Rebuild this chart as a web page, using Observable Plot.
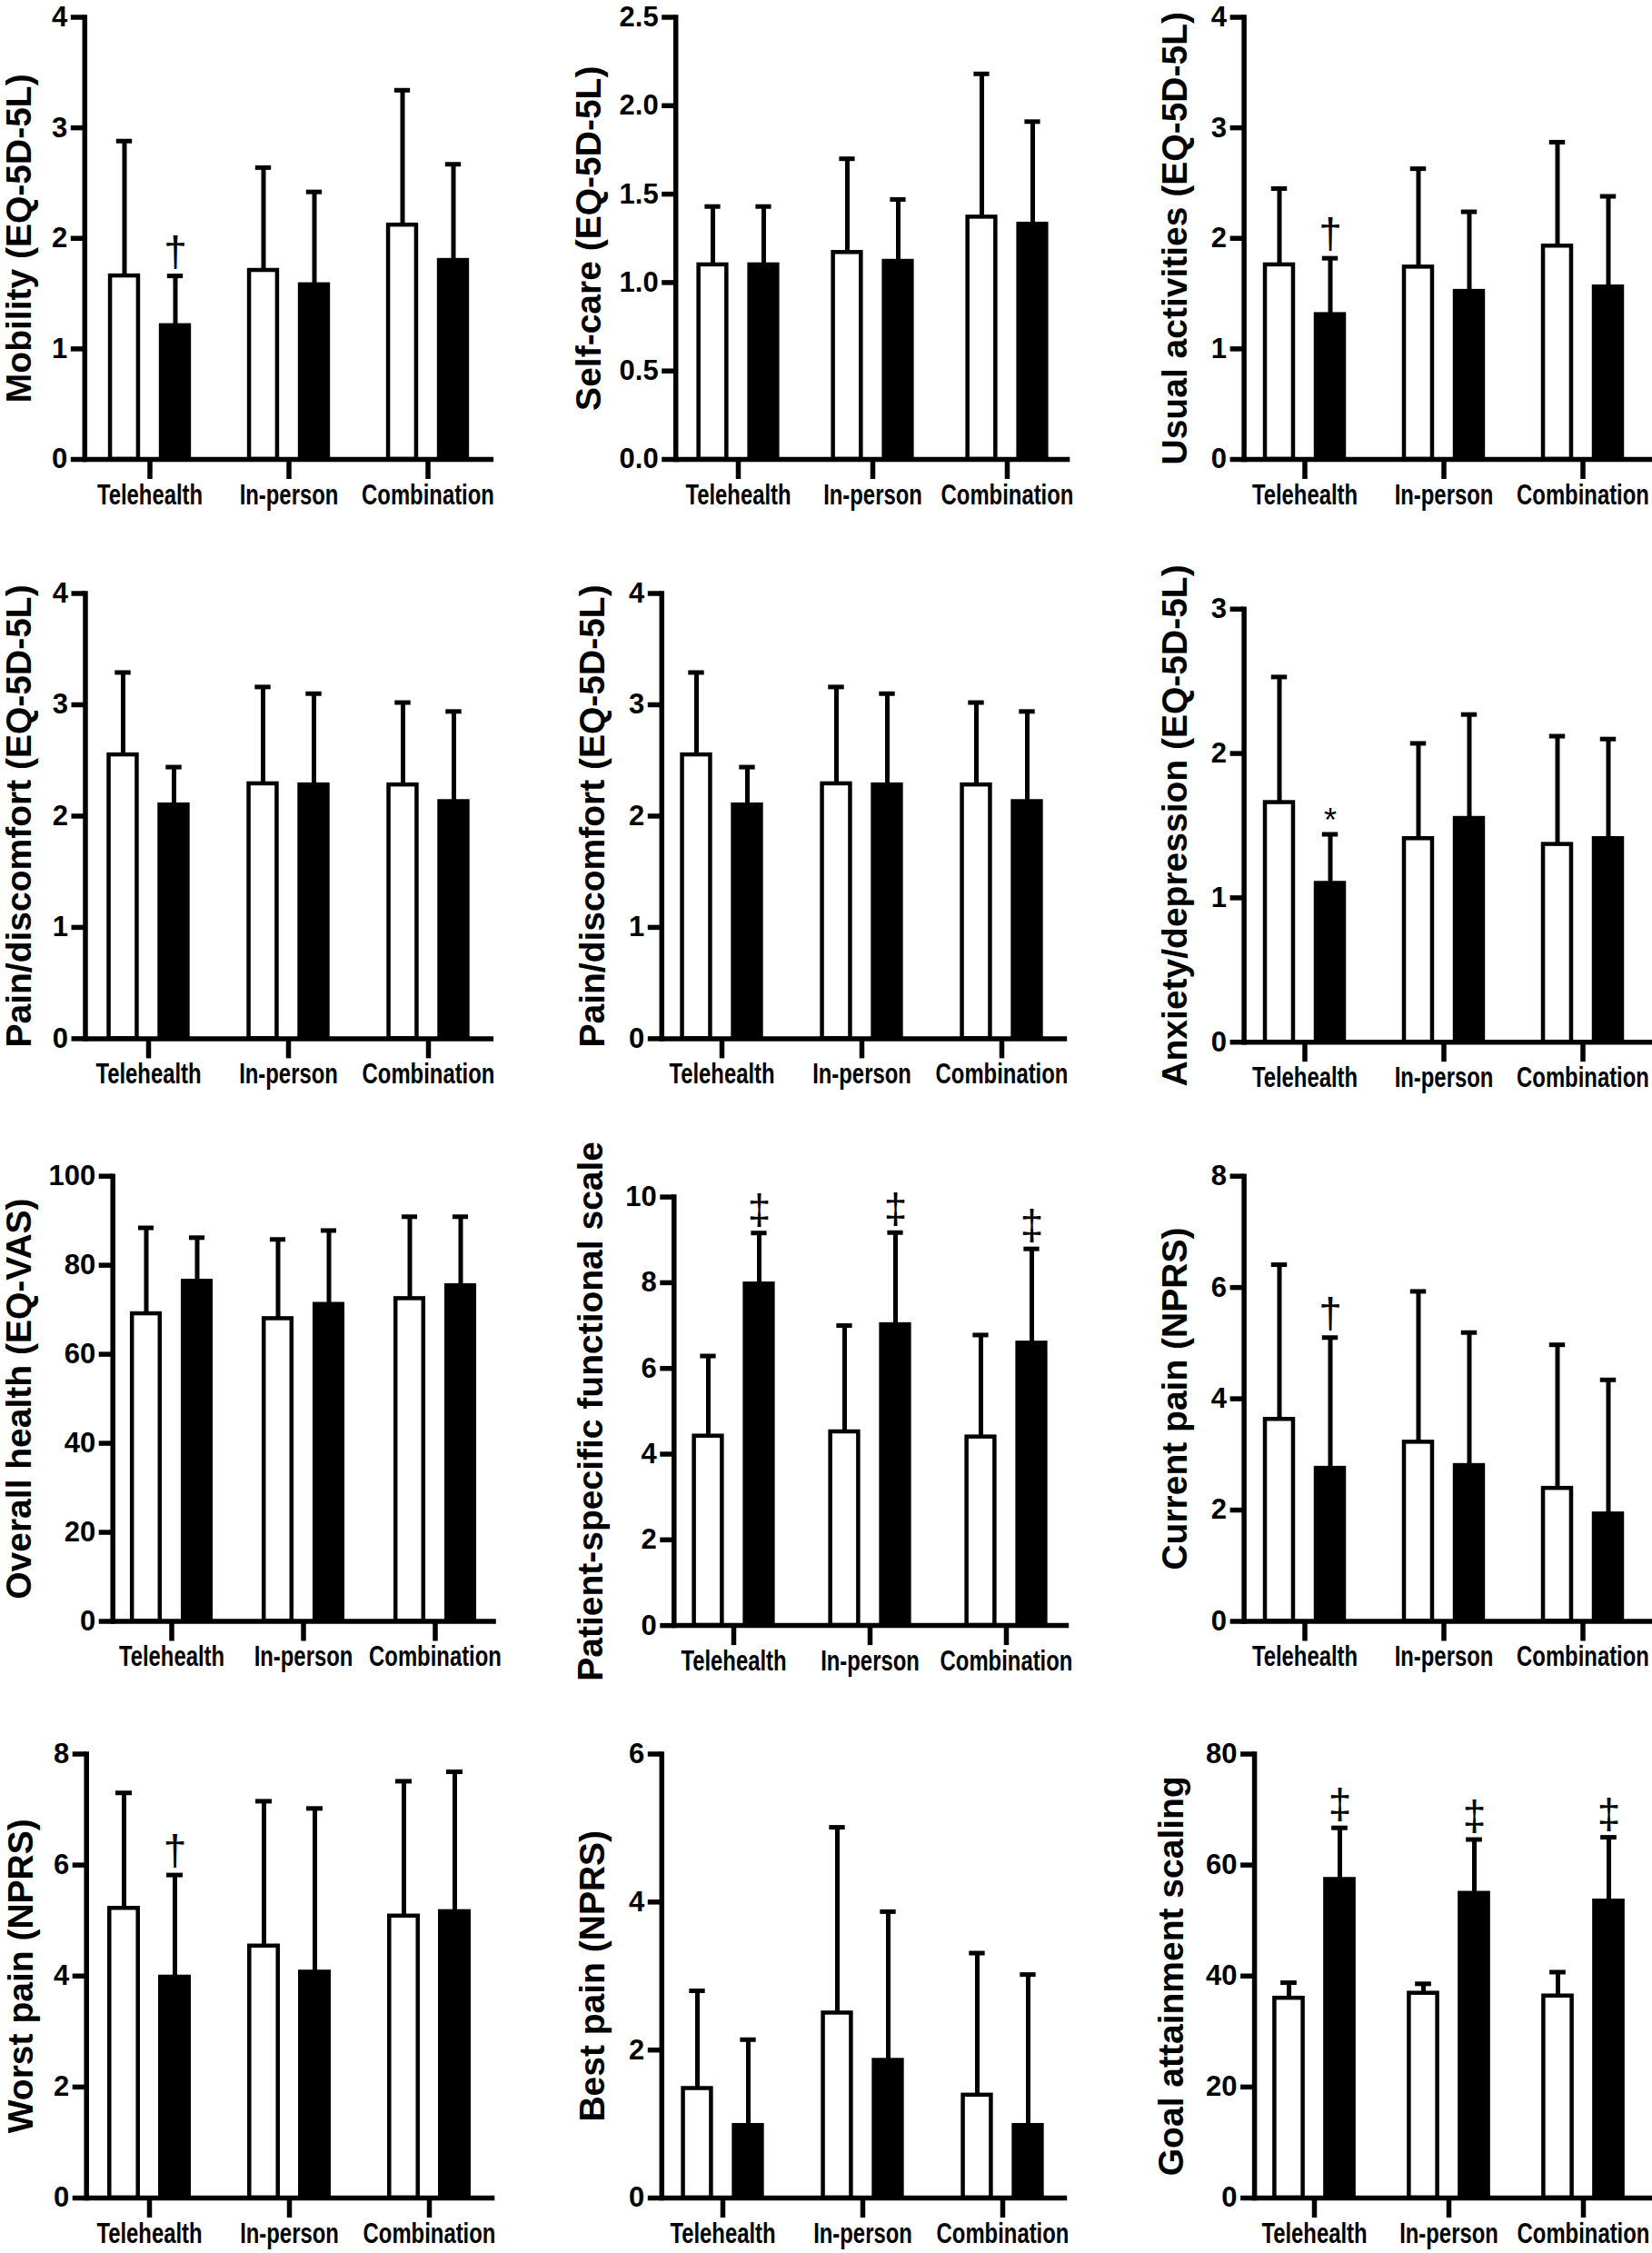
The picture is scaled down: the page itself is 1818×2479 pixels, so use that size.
<!DOCTYPE html>
<html>
<head>
<meta charset="utf-8">
<script src="https://cdn.jsdelivr.net/npm/d3@7"></script>
<script src="https://cdn.jsdelivr.net/npm/@observablehq/plot@0.6"></script>
<style>
  body { margin: 0; background: #fff; }
  #fig { position: relative; width: 1818px; height: 2479px; overflow: hidden; background: #fff; }
  .panel { position: absolute; }
</style>
</head>
<body>
<div id="fig"></div>
<script>
// ---------- DATA ----------
const groups = ["Telehealth", "In-person", "Combination"];

// y tick sets
const ticks0to4 = [0, 1, 2, 3, 4];
const ticksSelfCare = [0, 0.5, 1, 1.5, 2, 2.5];
const ticks0to3 = [0, 1, 2, 3];
const ticks0to100 = [0, 20, 40, 60, 80, 100];
const ticks0to10 = [0, 2, 4, 6, 8, 10];
const ticks0to8 = [0, 2, 4, 6, 8];
const ticks0to6 = [0, 2, 4, 6];
const ticks0to80 = [0, 20, 40, 60, 80];

// open (white) bars = first series, filled (black) bars = second series; SD = upper error bar
const mobilityWhite = [1.66, 1.71, 2.12];
const mobilityWhiteSD = [1.22, 0.93, 1.22];
const mobilityBlack = [1.21, 1.58, 1.80];
const mobilityBlackSD = [0.45, 0.84, 0.87];
const mobilityMarks = ["†", "", ""];

const selfCareWhite = [1.10, 1.17, 1.37];
const selfCareWhiteSD = [0.33, 0.53, 0.81];
const selfCareBlack = [1.10, 1.12, 1.33];
const selfCareBlackSD = [0.33, 0.35, 0.58];
const selfCareMarks = ["", "", ""];

const usualWhite = [1.76, 1.74, 1.93];
const usualWhiteSD = [0.69, 0.89, 0.94];
const usualBlack = [1.31, 1.52, 1.56];
const usualBlackSD = [0.51, 0.72, 0.82];
const usualMarks = ["†", "", ""];

const painWhite = [2.55, 2.29, 2.28];
const painWhiteSD = [0.74, 0.87, 0.74];
const painBlack = [2.10, 2.28, 2.13];
const painBlackSD = [0.34, 0.82, 0.81];
const painMarks = ["", "", ""];

const anxietyWhite = [1.66, 1.41, 1.37];
const anxietyWhiteSD = [0.87, 0.66, 0.75];
const anxietyBlack = [1.10, 1.55, 1.41];
const anxietyBlackSD = [0.34, 0.72, 0.69];
const anxietyMarks = ["*", "", ""];

const vasWhite = [69.1, 68.0, 72.5];
const vasWhiteSD = [19.3, 17.8, 18.4];
const vasBlack = [76.4, 71.2, 75.4];
const vasBlackSD = [9.8, 16.6, 15.5];
const vasMarks = ["", "", ""];

const psfsWhite = [4.42, 4.52, 4.40];
const psfsWhiteSD = [1.87, 2.48, 2.38];
const psfsBlack = [7.97, 7.02, 6.59];
const psfsBlackSD = [1.19, 2.15, 2.20];
const psfsMarks = ["‡", "‡", "‡"];

const currentWhite = [3.63, 3.22, 2.39];
const currentWhiteSD = [2.78, 2.71, 2.58];
const currentBlack = [2.75, 2.80, 1.93];
const currentBlackSD = [2.35, 2.39, 2.41];
const currentMarks = ["†", "", ""];

const worstWhite = [5.22, 4.54, 5.08];
const worstWhiteSD = [2.08, 2.61, 2.43];
const worstBlack = [3.98, 4.07, 5.16];
const worstBlackSD = [1.84, 2.95, 2.52];
const worstMarks = ["†", "", ""];

const bestWhite = [1.48, 2.50, 1.39];
const bestWhiteSD = [1.32, 2.51, 1.92];
const bestBlack = [0.98, 1.86, 0.98];
const bestBlackSD = [1.16, 2.01, 2.04];
const bestMarks = ["", "", ""];

const gasWhite = [36.0, 36.9, 36.4];
const gasWhiteSD = [2.8, 1.7, 4.3];
const gasBlack = [57.4, 54.9, 53.5];
const gasBlackSD = [9.3, 9.7, 11.5];
const gasMarks = ["‡", "‡", "‡"];

const panels = [
  {label: "Mobility (EQ-5D-5L)", ticks: ticks0to4, w: mobilityWhite, wsd: mobilityWhiteSD, b: mobilityBlack, bsd: mobilityBlackSD, m: mobilityMarks},
  {label: "Self-care (EQ-5D-5L)", ticks: ticksSelfCare, w: selfCareWhite, wsd: selfCareWhiteSD, b: selfCareBlack, bsd: selfCareBlackSD, m: selfCareMarks, fmt: d => d.toFixed(1)},
  {label: "Usual activities (EQ-5D-5L)", ticks: ticks0to4, w: usualWhite, wsd: usualWhiteSD, b: usualBlack, bsd: usualBlackSD, m: usualMarks},
  {label: "Pain/discomfort (EQ-5D-5L)", ticks: ticks0to4, w: painWhite, wsd: painWhiteSD, b: painBlack, bsd: painBlackSD, m: painMarks},
  {label: "Pain/discomfort (EQ-5D-5L)", ticks: ticks0to4, w: painWhite, wsd: painWhiteSD, b: painBlack, bsd: painBlackSD, m: painMarks},
  {label: "Anxiety/depression (EQ-5D-5L)", ticks: ticks0to3, w: anxietyWhite, wsd: anxietyWhiteSD, b: anxietyBlack, bsd: anxietyBlackSD, m: anxietyMarks},
  {label: "Overall health (EQ-VAS)", ticks: ticks0to100, w: vasWhite, wsd: vasWhiteSD, b: vasBlack, bsd: vasBlackSD, m: vasMarks},
  {label: "Patient-specific functional scale", ticks: ticks0to10, w: psfsWhite, wsd: psfsWhiteSD, b: psfsBlack, bsd: psfsBlackSD, m: psfsMarks},
  {label: "Current pain (NPRS)", ticks: ticks0to8, w: currentWhite, wsd: currentWhiteSD, b: currentBlack, bsd: currentBlackSD, m: currentMarks},
  {label: "Worst pain (NPRS)", ticks: ticks0to8, w: worstWhite, wsd: worstWhiteSD, b: worstBlack, bsd: worstBlackSD, m: worstMarks},
  {label: "Best pain (NPRS)", ticks: ticks0to6, w: bestWhite, wsd: bestWhiteSD, b: bestBlack, bsd: bestBlackSD, m: bestMarks},
  {label: "Goal attainment scaling", ticks: ticks0to80, w: gasWhite, wsd: gasWhiteSD, b: gasBlack, bsd: gasBlackSD, m: gasMarks}
];

// ---------- LAYOUT (pixel geometry, page coordinates) ----------
const layout = [
  {left: 0,    top: 0,    h: 600, yTop: 18.5,   y0: 505,    axis: 92.8,  xEnd: 543.1, c1: 164.3, c3: 471.6, lab: 21.5},
  {left: 606,  top: 0,    h: 600, yTop: 18.5,   y0: 505,    axis: 137.2, xEnd: 571.3, c1: 204.9, c3: 502.5, lab: 42.5},
  {left: 1212, top: 0,    h: 600, yTop: 18.5,   y0: 505,    axis: 156.6, xEnd: 606,   c1: 223.4, c3: 530.5, lab: 81.2},
  {left: 0,    top: 600,  h: 620, yTop: 652.5,  y0: 1142.4, axis: 93.5,  xEnd: 543.1, c1: 162.4, c3: 471.6, lab: 21.5},
  {left: 606,  top: 600,  h: 620, yTop: 652.5,  y0: 1142.4, axis: 121.8, xEnd: 568.2, c1: 187.5, c3: 496.7, lab: 46.4},
  {left: 1212, top: 600,  h: 620, yTop: 669.75, y0: 1146.2, axis: 156.6, xEnd: 606,   c1: 223.4, c3: 530.5, lab: 81.2},
  {left: 0,    top: 1220, h: 640, yTop: 1293.7, y0: 1783.5, axis: 123.7, xEnd: 545.8, c1: 187.5, c3: 479.3, lab: 21.5},
  {left: 606,  top: 1220, h: 640, yTop: 1316.6, y0: 1788.1, axis: 135.3, xEnd: 570.2, c1: 200.2, c3: 501.7, lab: 44.5},
  {left: 1212, top: 1220, h: 640, yTop: 1293.7, y0: 1783.5, axis: 156.6, xEnd: 606,   c1: 223.4, c3: 530.5, lab: 81.2},
  {left: 0,    top: 1860, h: 619, yTop: 1929.5, y0: 2418,   axis: 94.7,  xEnd: 544.3, c1: 164.3, c3: 472.4, lab: 23.2},
  {left: 606,  top: 1860, h: 619, yTop: 1929.5, y0: 2418,   axis: 121.8, xEnd: 568.2, c1: 188.2, c3: 497.5, lab: 46.4},
  {left: 1212, top: 1860, h: 619, yTop: 1929.5, y0: 2418,   axis: 168.1, xEnd: 606,   c1: 233.9, c3: 530.5, lab: 77.3}
];

const FONT = "'Liberation Sans', Arial, Helvetica, sans-serif";
const PANEL_W = 606;
const BAR_OFF = 28;       // bar centre offset from group centre
const BAR_STROKE = 4.5;
const BAR_HALF = 18 - BAR_STROKE / 2;  // outer bar width 36
const CAP_HALF = 9;
const ERR_W = 5;
const AXIS_W = 5.5;
const markDy = {"†": -11, "‡": -10, "*": -3};
const markSize = {"†": 46, "‡": 46, "*": 36};

const fig = document.getElementById("fig");

panels.forEach((p, i) => {
  const L = layout[i];
  const step = (L.c3 - L.c1) / 2;
  const half = step / 2;
  const mT = L.yTop - L.top;
  const mB = L.top + L.h - L.y0;
  const whiteRows = groups.map((g, k) => ({group: g, mean: p.w[k], sd: p.wsd[k]}));
  const blackRows = groups.map((g, k) => ({group: g, mean: p.b[k], sd: p.bsd[k], mark: p.m[k]}));
  const ymax = p.ticks[p.ticks.length - 1];
  const symbols = [...new Set(p.m.filter(s => s))];

  const errMarks = (rows, off) => [
    Plot.ruleX(rows, {x: "group", y1: "mean", y2: d => d.mean + d.sd, dx: off, stroke: "#000", strokeWidth: ERR_W}),
    Plot.tickY(rows, {x: "group", y: d => d.mean + d.sd, dx: off, insetLeft: half - CAP_HALF, insetRight: half - CAP_HALF, stroke: "#000", strokeWidth: ERR_W})
  ];

  const chart = Plot.plot({
    width: PANEL_W,
    height: L.h,
    marginLeft: L.axis,
    marginRight: PANEL_W - L.xEnd,
    marginTop: mT,
    marginBottom: mB,
    style: {fontFamily: FONT, fontWeight: "bold", color: "#000", background: "transparent", overflow: "visible"},
    x: {type: "band", domain: groups, range: [L.c1 - half, L.c3 + half], padding: 0, label: null},
    y: {domain: [0, ymax], nice: false, label: null},
    marks: [
      ...errMarks(whiteRows, -BAR_OFF),
      ...errMarks(blackRows, BAR_OFF),
      Plot.barY(whiteRows, {x: "group", y1: 0, y2: "mean", fill: "#fff", stroke: "#000", strokeWidth: BAR_STROKE,
        insetLeft: half - BAR_OFF - BAR_HALF, insetRight: half + BAR_OFF - BAR_HALF}),
      Plot.barY(blackRows, {x: "group", y1: 0, y2: "mean", fill: "#000", stroke: "#000", strokeWidth: BAR_STROKE,
        insetLeft: half + BAR_OFF - BAR_HALF, insetRight: half - BAR_OFF - BAR_HALF}),
      ...symbols.map(s => Plot.text(blackRows.filter(d => d.mark === s), {
        x: "group", y: d => d.mean + d.sd, text: "mark", dx: BAR_OFF, dy: markDy[s],
        lineAnchor: "bottom", fontSize: markSize[s], fontWeight: "normal", fill: "#000"
      })),
      Plot.ruleY([0], {stroke: "#000", strokeWidth: AXIS_W}),
      Plot.frame({anchor: "left", stroke: "#000", strokeWidth: AXIS_W}),
      Plot.axisY(p.ticks, {tickSize: 15, tickPadding: 4, strokeWidth: AXIS_W, fontSize: 31, fontWeight: "bold",
        tickFormat: p.fmt || (d => String(d)), label: null}),
      Plot.axisX({tickSize: 22, tickPadding: 5, strokeWidth: AXIS_W, fontSize: 31, fontWeight: "bold", label: null}),
      Plot.text([p.label], {text: d => d, frameAnchor: "left", rotate: -90, dx: L.lab - L.axis,
        textAnchor: "middle", lineAnchor: "middle", fontSize: 39, fontWeight: "bold", fill: "#000"})
    ]
  });

  // condense category labels horizontally, as in the original figure
  chart.querySelectorAll('g[aria-label="x-axis tick label"] text').forEach(t => {
    const x = +(t.getAttribute("x") || 0);
    const tr = t.getAttribute("transform") || "";
    t.setAttribute("transform", `${tr} translate(${x},0) scale(0.77,1) translate(${-x},0)`);
  });

  const div = document.createElement("div");
  div.className = "panel";
  div.style.left = L.left + "px";
  div.style.top = L.top + "px";
  div.appendChild(chart);
  fig.appendChild(div);
});
</script>
</body>
</html>
